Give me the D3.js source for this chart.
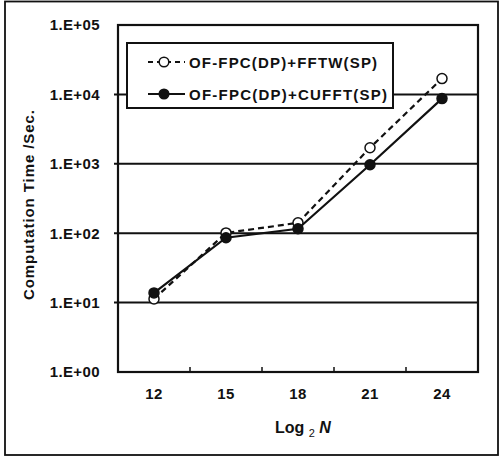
<!DOCTYPE html>
<html>
<head>
<meta charset="utf-8">
<script src="https://cdn.jsdelivr.net/npm/d3@7"></script>
<style>
  body { margin: 0; background: #fff; }
  svg { display: block; font-family: "Liberation Sans", Arial, sans-serif; }
</style>
</head>
<body>
<svg id="chart" width="500" height="457"></svg>
<script>
// data
var logN = ["12", "15", "18", "21", "24"];
var fftwTimes = [11.3, 101, 141, 1700, 16900];
var cufftTimes = [13.8, 86, 116, 970, 8700];
var yTickValues = [1, 10, 100, 1000, 10000, 100000];
var yTickLabels = ["1.E+00", "1.E+01", "1.E+02", "1.E+03", "1.E+04", "1.E+05"];
var seriesNames = ["OF-FPC(DP)+FFTW(SP)", "OF-FPC(DP)+CUFFT(SP)"];

var svg = d3.select("#chart");

var plotLeft = 118, plotRight = 478, plotTop = 25, plotBottom = 372;

var x = d3.scaleBand().domain(logN).range([plotLeft, plotRight]);
var y = d3.scaleLog().domain([1, 100000]).range([plotBottom, plotTop]);

// outer frame
svg.append("rect")
    .attr("x", 5).attr("y", 1.5)
    .attr("width", 493).attr("height", 453.5)
    .attr("fill", "none").attr("stroke", "#111").attr("stroke-width", 1.8);

// gridlines
svg.append("g").selectAll("line")
    .data(yTickValues.slice(1, -1))
    .enter().append("line")
    .attr("x1", plotLeft - 4).attr("x2", plotRight)
    .attr("y1", function (d) { return y(d); })
    .attr("y2", function (d) { return y(d); })
    .attr("stroke", "#111").attr("stroke-width", 2);

// plot frame
svg.append("rect")
    .attr("x", plotLeft).attr("y", plotTop)
    .attr("width", plotRight - plotLeft).attr("height", plotBottom - plotTop)
    .attr("fill", "none").attr("stroke", "#111").attr("stroke-width", 2.2);

// y labels
var yAxis = d3.axisLeft(y)
    .tickValues(yTickValues)
    .tickFormat(function (d, i) { return yTickLabels[i]; })
    .tickSize(0).tickPadding(18);
var gy = svg.append("g").attr("transform", "translate(" + plotLeft + ",0)").call(yAxis);
gy.select(".domain").remove();
gy.selectAll("text")
    .attr("font-family", "Liberation Sans, Arial, sans-serif")
    .attr("font-size", 15).attr("font-weight", "bold")
    .attr("letter-spacing", 0.4)
    .attr("fill", "#111");

// x labels
var xAxis = d3.axisBottom(x).tickSize(0).tickPadding(16);
var gx = svg.append("g").attr("transform", "translate(0," + plotBottom + ")").call(xAxis);
gx.select(".domain").remove();
gx.selectAll("text")
    .attr("font-family", "Liberation Sans, Arial, sans-serif")
    .attr("font-size", 15).attr("font-weight", "bold")
    .attr("letter-spacing", 0.5)
    .attr("fill", "#111");

// inward ticks between categories
svg.append("g").selectAll("line")
    .data(logN.slice(1))
    .enter().append("line")
    .attr("x1", function (d) { return x(d); })
    .attr("x2", function (d) { return x(d); })
    .attr("y1", plotBottom).attr("y2", plotBottom - 5)
    .attr("stroke", "#111").attr("stroke-width", 1.5);

// axis titles
svg.append("text")
    .attr("transform", "translate(34,205) rotate(-90)")
    .attr("text-anchor", "middle")
    .attr("font-size", 15).attr("font-weight", 600).attr("fill", "#111")
    .attr("textLength", 190).attr("lengthAdjust", "spacing")
    .text("Computation Time /Sec.");

var xt = svg.append("text")
    .attr("x", 275).attr("y", 433)
    .attr("font-size", 16).attr("font-weight", "bold").attr("fill", "#111");
xt.append("tspan").text("Log ");
xt.append("tspan").attr("font-size", 11).attr("font-weight", "normal").attr("dy", 4).text("2");
xt.append("tspan").attr("dy", -4).attr("font-style", "italic").text(" N");

// legend
var legend = svg.append("g");
legend.append("rect")
    .attr("x", 127).attr("y", 43).attr("width", 266).attr("height", 65)
    .attr("fill", "#fff").attr("stroke", "#111").attr("stroke-width", 2);

var legendRows = [
    { name: seriesNames[0], dash: "5,4", fill: "#fff", y: 62 },
    { name: seriesNames[1], dash: null, fill: "#111", y: 94 }
];
legendRows.forEach(function (r) {
    legend.append("line")
        .attr("x1", 148).attr("x2", 185)
        .attr("y1", r.y).attr("y2", r.y)
        .attr("stroke", "#111").attr("stroke-width", 2)
        .attr("stroke-dasharray", r.dash);
    legend.append("circle")
        .attr("cx", 164).attr("cy", r.y).attr("r", 4.8)
        .attr("fill", r.fill).attr("stroke", "#111").attr("stroke-width", 1.5);
    legend.append("text")
        .attr("x", 189).attr("y", r.y + 5.5)
        .attr("font-size", 15).attr("font-weight", "bold").attr("fill", "#111")
        .attr("textLength", r.name.length * 9.9).attr("lengthAdjust", "spacing")
        .text(r.name);
});

// series
var cx = function (d, i) { return x(logN[i]) + x.bandwidth() / 2; };
var line = d3.line()
    .x(function (d, i) { return cx(d, i); })
    .y(function (d) { return y(d); });

function drawSeries(values, dash, fill) {
    svg.append("path")
        .datum(values)
        .attr("d", line)
        .attr("fill", "none").attr("stroke", "#111").attr("stroke-width", 2.2)
        .attr("stroke-dasharray", dash);
    svg.append("g").selectAll("circle")
        .data(values)
        .enter().append("circle")
        .attr("cx", cx)
        .attr("cy", function (d) { return y(d); })
        .attr("r", 5)
        .attr("fill", fill).attr("stroke", "#111").attr("stroke-width", 1.5);
}

drawSeries(fftwTimes, "6,4", "#fff");
drawSeries(cufftTimes, null, "#111");
</script>
</body>
</html>
